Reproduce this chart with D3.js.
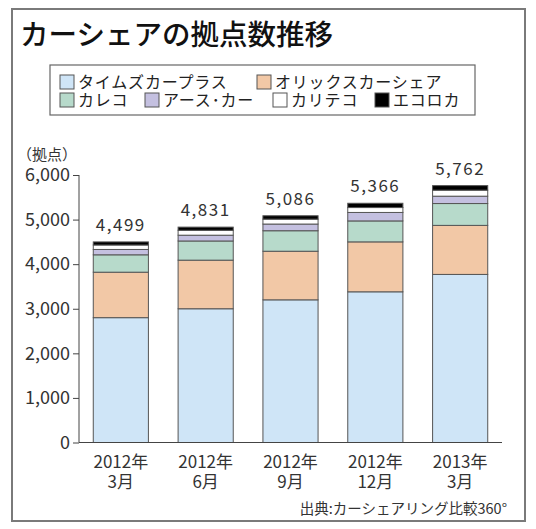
<!DOCTYPE html>
<html>
<head>
<meta charset="utf-8">
<script src="https://cdn.jsdelivr.net/npm/d3@7"></script>
<style>
  body { margin: 0; background: #fff; }
  svg { font-family: "Noto Sans CJK JP", "Noto Sans", sans-serif; }
</style>
</head>
<body>
<div id="chart"></div>
<script>
// data
const periods = ["2012年3月", "2012年6月", "2012年9月", "2012年12月", "2013年3月"];
const periodYear = ["2012年", "2012年", "2012年", "2012年", "2013年"];
const periodMonth = ["3月", "6月", "9月", "12月", "3月"];
const seriesNames = ["タイムズカープラス", "オリックスカーシェア", "カレコ", "アース･カー", "カリテコ", "エコロカ"];
const timesValues = [2800, 3000, 3200, 3380, 3770];
const orixValues = [1020, 1090, 1090, 1120, 1100];
const carecoValues = [390, 430, 460, 470, 490];
const earthValues = [120, 130, 150, 190, 165];
const cariteValues = [100, 110, 110, 110, 135];
const ecolocaValues = [69, 71, 76, 96, 102];
const totalLabels = ["4,499", "4,831", "5,086", "5,366", "5,762"];
const yTicks = [0, 1000, 2000, 3000, 4000, 5000, 6000];

const colors = ["#cfe5f7", "#f2c8a6", "#b7dacb", "#c4c0e0", "#ffffff", "#000000"];

const allValues = [timesValues, orixValues, carecoValues, earthValues, cariteValues, ecolocaValues];
const rows = periods.map((p, i) => {
  const r = { period: p };
  seriesNames.forEach((s, k) => (r[s] = allValues[k][i]));
  return r;
});

const width = 536, height = 529;
const svg = d3.select("#chart").append("svg")
  .attr("width", width)
  .attr("height", height);

// outer frame
svg.append("rect")
  .attr("x", 12).attr("y", 9)
  .attr("width", 513).attr("height", 512)
  .attr("fill", "none")
  .attr("stroke", "#7a7a7a")
  .attr("stroke-width", 2);

svg.append("text")
  .text("カーシェアの拠点数推移")
  .attr("x", 20).attr("y", 45)
  .attr("font-size", 28.5)
  .attr("font-weight", 500)
  .attr("fill", "#111");

// legend
const legend = svg.append("g");
legend.append("rect")
  .attr("x", 50).attr("y", 65)
  .attr("width", 425).attr("height", 50)
  .attr("fill", "#fff")
  .attr("stroke", "#666")
  .attr("stroke-width", 1.2);

const legendPos = [
  [60, 82], [257, 82],
  [60, 100], [145, 100], [273, 100], [375, 100]
];
seriesNames.forEach((s, k) => {
  const g = legend.append("g")
    .attr("transform", `translate(${legendPos[k][0]},${legendPos[k][1]})`);
  g.append("rect")
    .attr("x", 0).attr("y", -7)
    .attr("width", 14).attr("height", 14)
    .attr("fill", colors[k])
    .attr("stroke", "#555")
    .attr("stroke-width", 1);
  g.append("text")
    .text(s)
    .attr("x", 18).attr("y", 6)
    .attr("font-size", 16)
    .attr("letter-spacing", 0.8)
    .attr("fill", "#222");
});

// scales
const x = d3.scaleBand()
  .domain(periods)
  .range([78, 503])
  .paddingInner(0.35)
  .paddingOuter(0.18);
const y = d3.scaleLinear().domain([0, 6000]).range([442.5, 175]);

const stack = d3.stack().keys(seriesNames);
const layers = stack(rows);

const layerG = svg.selectAll(".layer")
  .data(layers)
  .enter().append("g")
  .attr("class", "layer")
  .attr("fill", (d, k) => colors[k]);

layerG.selectAll("rect")
  .data((d) => d)
  .enter().append("rect")
  .attr("x", (d) => x(d.data.period))
  .attr("y", (d) => y(d[1]))
  .attr("width", x.bandwidth())
  .attr("height", (d) => y(d[0]) - y(d[1]))
  .attr("stroke", "#555")
  .attr("stroke-width", 1);

// totals
svg.selectAll(".total")
  .data(periods)
  .enter().append("text")
  .attr("class", "total")
  .attr("x", (d) => x(d) + x.bandwidth() / 2)
  .attr("y", (d, i) => y(layers[layers.length - 1][i][1]) - 11)
  .attr("text-anchor", "middle")
  .attr("font-size", 17)
  .attr("letter-spacing", 1.5)
  .attr("fill", "#333")
  .text((d, i) => totalLabels[i]);

// y axis
const yAxis = svg.append("g")
  .attr("transform", "translate(79,0)")
  .call(d3.axisLeft(y).tickValues(yTicks).tickSize(6).tickPadding(3)
    .tickFormat(d3.format(",")));
yAxis.select(".domain").attr("stroke", "#444").attr("d", `M-0,${y(6000)}V${y(0)}`);
yAxis.selectAll(".tick line").attr("stroke", "#444");
yAxis.selectAll(".tick text")
  .attr("font-size", 18)
  .attr("fill", "#333")
  .attr("font-family", "'Noto Sans CJK JP', sans-serif");

svg.append("text")
  .text("（拠点）")
  .attr("x", 17).attr("y", 160)
  .attr("font-size", 15)
  .attr("fill", "#333");

// x baseline
svg.append("line")
  .attr("x1", 79).attr("x2", 502)
  .attr("y1", y(0)).attr("y2", y(0))
  .attr("stroke", "#444")
  .attr("stroke-width", 1.2);

const xl = svg.selectAll(".xlab")
  .data(periods)
  .enter().append("text")
  .attr("class", "xlab")
  .attr("text-anchor", "middle")
  .attr("font-size", 17)
  .attr("fill", "#333");
xl.append("tspan")
  .attr("x", (d) => x(d) + x.bandwidth() / 2)
  .attr("y", 468)
  .text((d, i) => periodYear[i]);
xl.append("tspan")
  .attr("x", (d) => x(d) + x.bandwidth() / 2)
  .attr("y", 488)
  .text((d, i) => periodMonth[i]);

svg.append("text")
  .text("出典:カーシェアリング比較360°")
  .attr("x", 507).attr("y", 514)
  .attr("text-anchor", "end")
  .attr("font-size", 14.5)
  .attr("fill", "#333");
</script>
</body>
</html>
